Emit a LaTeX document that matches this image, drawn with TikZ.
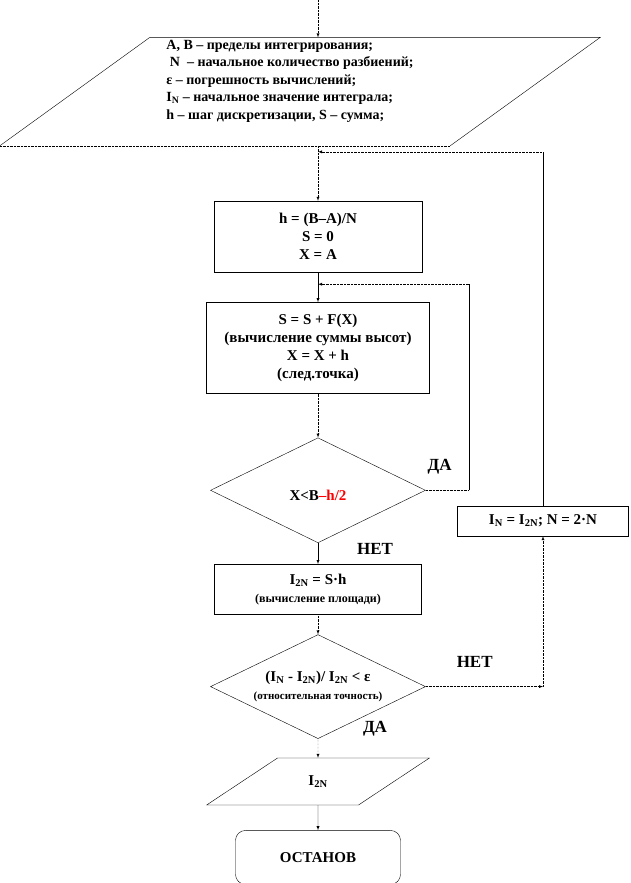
\documentclass[tikz,border=0pt]{standalone}
\usepackage{fontspec}
\setmainfont{Liberation Serif}
\usetikzlibrary{positioning,shapes.geometric}

\begin{document}
\begin{tikzpicture}[->, >=latex, x=1pt, y=-1pt,
  block/.style={rectangle, draw, thin, align=center, inner sep=2pt},
  decision/.style={diamond, draw, thin, align=center, inner sep=0pt, aspect=2.07, minimum width=215pt, minimum height=105pt},
  io/.style={trapezium, draw, thin, trapezium stretches=true},
  lbl/.style={font=\fontsize{17}{20}\selectfont\bfseries}]
            \tikzstyle{every node}=[font=\fontsize{15}{18}\selectfont\bfseries]
            \useasboundingbox (0,0) rectangle (631,883);

              \node[block, minimum width=208pt, minimum height=71pt] (init) at (318,236.5) {h = (B–A)/N\\ S = 0\\ X = A};
              \node[inner sep=0pt, minimum width=600pt, minimum height=108pt] (in) [above=55pt of init, xshift=-18pt] {};
              \node[align=left, font=\fontsize{14}{17.5}\selectfont\bfseries] (intext) at (290,81) {A, B – пределы интегрирования;\\ ~N~ – начальное количество разбиений;\\ ε – погрешность вычислений;\\ I\textsubscript{N} – начальное значение интеграла;\\ h – шаг дискретизации, S – сумма;};
              \node[block, minimum width=223pt, minimum height=91pt] (sum) [below=30pt of init] {S = S + F(X)\\ (вычисление суммы высот)\\ X = X + h\\ (след.точка)};
              \node[decision] (cond1) [below=44pt of sum] {\\[2pt]X<B\textcolor{red}{–h/2}};
              \node[block, minimum width=207pt, minimum height=50pt] (area) [below=21pt of cond1] {I\textsubscript{2N} = S·h\\ {\fontsize{12}{14}\selectfont (вычисление площади)}};
              \node[decision, minimum height=104pt] (cond2) [below=20pt of area] {(I\textsubscript{N} - I\textsubscript{2N})/ I\textsubscript{2N} < ε\\ {\fontsize{11}{13}\selectfont (относительная точность)}};
              \node[io, trapezium left angle=39.5, trapezium right angle=140.5, minimum width=224pt, minimum height=47pt] (out) [below=19pt of cond2] {I\textsubscript{2N}};
              \node[block, rounded corners=10pt, minimum width=165pt, minimum height=54pt] (stop) [below=25pt of out] {ОСТАНОВ};
              \node[block, minimum width=171pt, minimum height=30pt] (upd) at (543,521) {I\textsubscript{N} = I\textsubscript{2N}; N = 2·N};

              % input parallelogram round the data node
              \draw[-, thin] ([xshift=150pt]in.north west) -- (in.north east) -- ([xshift=-150pt]in.south east);
              \draw[-, thin] ([xshift=150pt]in.north west) -- (in.south west);
              \draw[-, densely dotted] (in.south west) -- ([xshift=-150pt]in.south east);

              % labels on the branches
              \node[lbl] (yes1) at ([xshift=14pt,yshift=24pt]cond1.east) {ДА};
              \node[lbl] (no1) at ([xshift=57pt,yshift=-6pt]cond1.south) {НЕТ};
              \node[lbl] (no2) at ([xshift=49pt,yshift=25pt]cond2.east) {НЕТ};
              \node[lbl] (yes2) at ([xshift=57pt,yshift=10pt]cond2.south) {ДА};

              % junctions on the main line
              \path (init.south) -- (sum.north) coordinate[pos=0.4] (j1);
              \path (init.north |- in.south) -- (init.north) coordinate[pos=0.11] (j2);
              \coordinate (entry) at (init.north |- 0,0);

              \draw[densely dotted] (entry) -- (init.north |- in.north);
              \draw[densely dotted] (init.north |- in.south) -- (init.north);
              \path (init) edge (sum)
                    (cond1) edge (area)
                    (out) edge (stop);
              \draw[densely dotted] (sum) -- (cond1);
              \draw[densely dotted] (area) -- (cond2);
              \draw[densely dotted] (cond2) -- (out);

              % inner loop
              \draw[-, densely dotted] (cond1.east) -- ++(43,0) coordinate (c1);
              \draw[-] (c1) -- (c1 |- j1) coordinate (c2);
              \draw[densely dotted] (c2) -- (j1);

              % outer loop
              \draw[densely dotted] (cond2.east) -- (cond2.east -| upd.south) coordinate (c3);
              \draw[densely dotted] (c3) -- (upd.south);
              \draw[-] (upd.north) -- (upd.north |- j2) coordinate (c4);
              \draw[densely dotted] (c4) -- (j2);
            \end{tikzpicture}
\end{document}
